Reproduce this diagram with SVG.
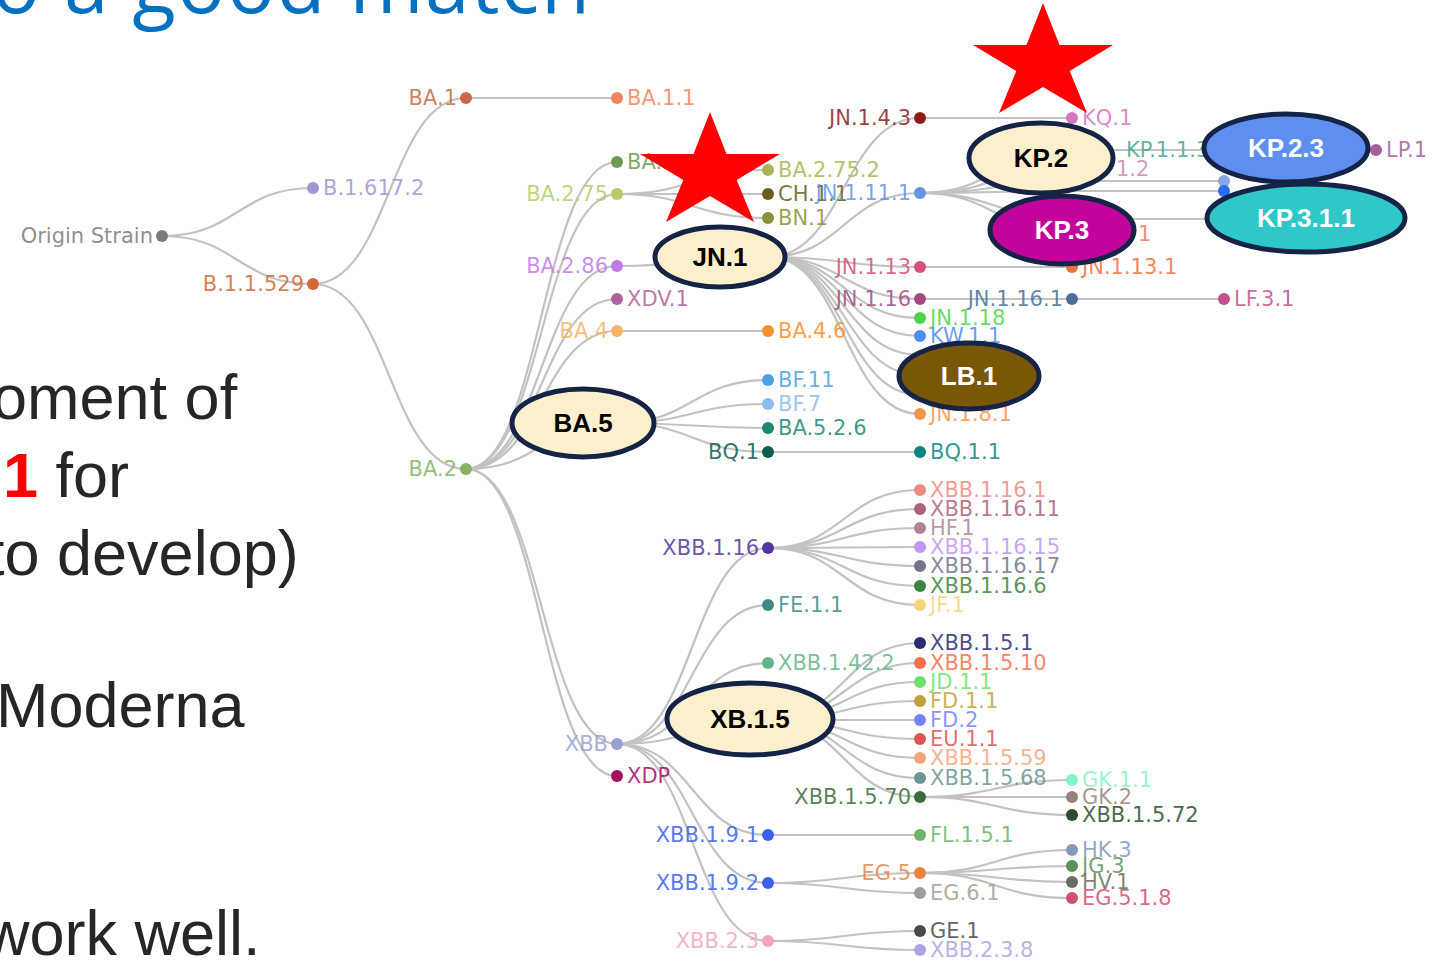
<svg xmlns="http://www.w3.org/2000/svg" width="1452" height="963" viewBox="0 0 1452 963">
<style>
.ln{fill:none;stroke:#c2c2c2;stroke-width:2.2}
.t{font-family:"DejaVu Sans",Verdana,sans-serif;font-size:21px;fill-opacity:0.85}
.l{text-anchor:end}
.big{stroke:#152446;stroke-width:5}
.et{font-family:"Liberation Sans",Arial,sans-serif;font-size:26px;font-weight:bold;text-anchor:middle}
.body{font-family:"Liberation Sans",Arial,sans-serif;font-size:63px;fill:#262626}
.star{fill:#ff0000}
</style>
<defs>
<polygon id="star" points="710,112 726.5,154 780,154 736.7,180 754,222 710,196 666,222 683.3,180 640,154 693.5,154"/>
</defs>
<rect width="1452" height="963" fill="#ffffff"/>
<text x="-8" y="13" font-family="Open Sans,Lato,sans-serif" font-size="80" fill="#0070c0" textLength="598" lengthAdjust="spacing">o a good match</text>
<g id="body-text">
<text class="body" x="-8" y="419">oment of</text>
<text class="body" x="3" y="497"><tspan fill="#ff0000" font-weight="bold">1</tspan> for</text>
<text class="body" x="-13" y="575">to develop)</text>
<text class="body" x="-4" y="727">Moderna</text>
<text class="body" x="-16" y="955">work well.</text>
</g>
<g id="connectors">
<path class="ln" d="M162,236C237.5,236 237.5,188 313,188"/>
<path class="ln" d="M162,236C237.5,236 237.5,284 313,284"/>
<path class="ln" d="M313,284C389.5,284 389.5,98 466,98"/>
<path class="ln" d="M313,284C389.5,284 389.5,469 466,469"/>
<path class="ln" d="M466,98H617"/>
<path class="ln" d="M466,469C541.5,469 541.5,162 617,162"/>
<path class="ln" d="M466,469C541.5,469 541.5,194 617,194"/>
<path class="ln" d="M466,469C541.5,469 541.5,266 617,266"/>
<path class="ln" d="M466,469C541.5,469 541.5,299 617,299"/>
<path class="ln" d="M466,469C541.5,469 541.5,331 617,331"/>
<path class="ln" d="M466,469C541.5,469 541.5,423 617,423"/>
<path class="ln" d="M466,469C541.5,469 541.5,744 617,744"/>
<path class="ln" d="M466,469C541.5,469 541.5,776 617,776"/>
<path class="ln" d="M617,194C692.5,194 692.5,170 768,170"/>
<path class="ln" d="M617,194H768"/>
<path class="ln" d="M617,194C692.5,194 692.5,218 768,218"/>
<path class="ln" d="M617,266C692.5,266 692.5,257 768,257"/>
<path class="ln" d="M617,331H768"/>
<path class="ln" d="M617,423C692.5,423 692.5,380 768,380"/>
<path class="ln" d="M617,423C692.5,423 692.5,404 768,404"/>
<path class="ln" d="M617,423C692.5,423 692.5,428 768,428"/>
<path class="ln" d="M617,423C692.5,423 692.5,452 768,452"/>
<path class="ln" d="M768,452H920"/>
<path class="ln" d="M768,257C844,257 844,118 920,118"/>
<path class="ln" d="M768,257C844,257 844,193 920,193"/>
<path class="ln" d="M768,257C844,257 844,267 920,267"/>
<path class="ln" d="M768,257C844,257 844,299 920,299"/>
<path class="ln" d="M768,257C844,257 844,318 920,318"/>
<path class="ln" d="M768,257C844,257 844,336 920,336"/>
<path class="ln" d="M768,257C844,257 844,355 920,355"/>
<path class="ln" d="M768,257C844,257 844,375 920,375"/>
<path class="ln" d="M768,257C844,257 844,395 920,395"/>
<path class="ln" d="M768,257C844,257 844,414 920,414"/>
<path class="ln" d="M920,118H1072"/>
<path class="ln" d="M920,193C996,193 996,150 1072,150"/>
<path class="ln" d="M920,193C996,193 996,167 1072,167"/>
<path class="ln" d="M920,193C996,193 996,181 1072,181"/>
<path class="ln" d="M920,193C996,193 996,191 1072,191"/>
<path class="ln" d="M920,193C996,193 996,219 1072,219"/>
<path class="ln" d="M920,193C996,193 996,233 1072,233"/>
<path class="ln" d="M1072,150H1376"/>
<path class="ln" d="M1072,181H1224"/>
<path class="ln" d="M1072,191H1224"/>
<path class="ln" d="M1072,219H1224"/>
<path class="ln" d="M920,267H1072"/>
<path class="ln" d="M920,299H1224"/>
<path class="ln" d="M617,744C692.5,744 692.5,548 768,548"/>
<path class="ln" d="M617,744C692.5,744 692.5,605 768,605"/>
<path class="ln" d="M617,744C692.5,744 692.5,663 768,663"/>
<path class="ln" d="M617,744C692.5,744 692.5,720 768,720"/>
<path class="ln" d="M617,744C692.5,744 692.5,835 768,835"/>
<path class="ln" d="M617,744C692.5,744 692.5,883 768,883"/>
<path class="ln" d="M617,744C692.5,744 692.5,941 768,941"/>
<path class="ln" d="M768,548C844,548 844,490 920,490"/>
<path class="ln" d="M768,548C844,548 844,509 920,509"/>
<path class="ln" d="M768,548C844,548 844,528 920,528"/>
<path class="ln" d="M768,548C844,548 844,547 920,547"/>
<path class="ln" d="M768,548C844,548 844,566 920,566"/>
<path class="ln" d="M768,548C844,548 844,586 920,586"/>
<path class="ln" d="M768,548C844,548 844,605 920,605"/>
<path class="ln" d="M768,720C844,720 844,643 920,643"/>
<path class="ln" d="M768,720C844,720 844,663 920,663"/>
<path class="ln" d="M768,720C844,720 844,682 920,682"/>
<path class="ln" d="M768,720C844,720 844,701 920,701"/>
<path class="ln" d="M768,720H920"/>
<path class="ln" d="M768,720C844,720 844,739 920,739"/>
<path class="ln" d="M768,720C844,720 844,758 920,758"/>
<path class="ln" d="M768,720C844,720 844,778 920,778"/>
<path class="ln" d="M768,720C844,720 844,797 920,797"/>
<path class="ln" d="M920,797C996,797 996,780 1072,780"/>
<path class="ln" d="M920,797H1072"/>
<path class="ln" d="M920,797C996,797 996,815 1072,815"/>
<path class="ln" d="M768,835H920"/>
<path class="ln" d="M768,883C844,883 844,873 920,873"/>
<path class="ln" d="M768,883C844,883 844,893 920,893"/>
<path class="ln" d="M920,873C996,873 996,850 1072,850"/>
<path class="ln" d="M920,873C996,873 996,866 1072,866"/>
<path class="ln" d="M920,873C996,873 996,882 1072,882"/>
<path class="ln" d="M920,873C996,873 996,898 1072,898"/>
<path class="ln" d="M768,941C844,941 844,931 920,931"/>
<path class="ln" d="M768,941C844,941 844,950 920,950"/>
</g>
<g id="n-origin"><circle cx="162" cy="236" r="6" fill="#7a7a7a"/><text class="t l" x="153" y="243" fill="#7a7a7a">Origin Strain</text></g>
<g id="n-b16172"><circle cx="313" cy="188" r="6" fill="#a494d0"/><text class="t" x="323" y="195" fill="#a494d0">B.1.617.2</text></g>
<g id="n-b11529"><circle cx="313" cy="284" r="6" fill="#d0683c"/><text class="t l" x="304" y="291" fill="#d0683c">B.1.1.529</text></g>
<g id="n-ba1"><circle cx="466" cy="98" r="6" fill="#c86a42"/><text class="t l" x="457" y="105" fill="#c86a42">BA.1</text></g>
<g id="n-ba2"><circle cx="466" cy="469" r="6" fill="#84b464"/><text class="t l" x="457" y="476" fill="#84b464">BA.2</text></g>
<g id="n-ba11"><circle cx="617" cy="98" r="6" fill="#f4845c"/><text class="t" x="627" y="105" fill="#f4845c">BA.1.1</text></g>
<g id="n-ba2x"><circle cx="617" cy="162" r="6" fill="#6c9a52"/><text class="t" x="627" y="169" fill="#6c9a52">BA.</text></g>
<g id="n-ba275"><circle cx="617" cy="194" r="6" fill="#b4cc6c"/><text class="t l" x="608" y="201" fill="#b4cc6c">BA.2.75</text></g>
<g id="n-ba286"><circle cx="617" cy="266" r="6" fill="#c27ae6"/><text class="t l" x="608" y="273" fill="#c27ae6">BA.2.86</text></g>
<g id="n-xdv1"><circle cx="617" cy="299" r="6" fill="#b0609a"/><text class="t" x="627" y="306" fill="#b0609a">XDV.1</text></g>
<g id="n-ba4"><circle cx="617" cy="331" r="6" fill="#f8b464"/><text class="t l" x="608" y="338" fill="#f8b464">BA.4</text></g>
<g id="n-xbb"><circle cx="617" cy="744" r="6" fill="#98a0d4"/><text class="t l" x="608" y="751" fill="#98a0d4">XBB</text></g>
<g id="n-xdp"><circle cx="617" cy="776" r="6" fill="#a80a64"/><text class="t" x="627" y="783" fill="#a80a64">XDP</text></g>
<g id="n-ba2752"><circle cx="768" cy="170" r="6" fill="#a8b454"/><text class="t" x="778" y="177" fill="#a8b454">BA.2.75.2</text></g>
<g id="n-ch11"><circle cx="768" cy="194" r="6" fill="#6c5c1c"/><text class="t" x="778" y="201" fill="#6c5c1c">CH.1.1</text></g>
<g id="n-bn1"><circle cx="768" cy="218" r="6" fill="#8c9038"/><text class="t" x="778" y="225" fill="#8c9038">BN.1</text></g>
<g id="n-ba46"><circle cx="768" cy="331" r="6" fill="#f8902c"/><text class="t" x="778" y="338" fill="#f8902c">BA.4.6</text></g>
<g id="n-bf11"><circle cx="768" cy="380" r="6" fill="#4ca0e8"/><text class="t" x="778" y="387" fill="#4ca0e8">BF.11</text></g>
<g id="n-bf7"><circle cx="768" cy="404" r="6" fill="#8cbcf0"/><text class="t" x="778" y="411" fill="#8cbcf0">BF.7</text></g>
<g id="n-ba526"><circle cx="768" cy="428" r="6" fill="#1c8870"/><text class="t" x="778" y="435" fill="#1c8870">BA.5.2.6</text></g>
<g id="n-bq1"><circle cx="768" cy="452" r="6" fill="#0c5c50"/><text class="t l" x="759" y="459" fill="#0c5c50">BQ.1</text></g>
<g id="n-xbb116"><circle cx="768" cy="548" r="6" fill="#5434a0"/><text class="t l" x="759" y="555" fill="#5434a0">XBB.1.16</text></g>
<g id="n-fe11"><circle cx="768" cy="605" r="6" fill="#3c8c84"/><text class="t" x="778" y="612" fill="#3c8c84">FE.1.1</text></g>
<g id="n-xbb1422"><circle cx="768" cy="663" r="6" fill="#64b488"/><text class="t" x="778" y="670" fill="#64b488">XBB.1.42.2</text></g>
<g id="n-xbb191"><circle cx="768" cy="835" r="6" fill="#3c60f4"/><text class="t l" x="759" y="842" fill="#3c60f4">XBB.1.9.1</text></g>
<g id="n-xbb192"><circle cx="768" cy="883" r="6" fill="#3c60f4"/><text class="t l" x="759" y="890" fill="#3c60f4">XBB.1.9.2</text></g>
<g id="n-xbb23"><circle cx="768" cy="941" r="6" fill="#f4a4c4"/><text class="t l" x="759" y="948" fill="#f4a4c4">XBB.2.3</text></g>
<g id="n-jn143"><circle cx="920" cy="118" r="6" fill="#8c1c1c"/><text class="t l" x="911" y="125" fill="#8c1c1c">JN.1.4.3</text></g>
<g id="n-jn1111"><circle cx="920" cy="193" r="6" fill="#6494e4"/><text class="t l" x="911" y="200" fill="#6494e4">JN.1.11.1</text></g>
<g id="n-jn113"><circle cx="920" cy="267" r="6" fill="#d4507a"/><text class="t l" x="911" y="274" fill="#d4507a">JN.1.13</text></g>
<g id="n-jn116"><circle cx="920" cy="299" r="6" fill="#a04c84"/><text class="t l" x="911" y="306" fill="#a04c84">JN.1.16</text></g>
<g id="n-jn118"><circle cx="920" cy="318" r="6" fill="#4cd44c"/><text class="t" x="930" y="325" fill="#4cd44c">JN.1.18</text></g>
<g id="n-kw11"><circle cx="920" cy="336" r="6" fill="#4c8cf4"/><text class="t" x="930" y="343" fill="#4c8cf4">KW.1.1</text></g>
<g id="n-jn181"><circle cx="920" cy="414" r="6" fill="#f8944c"/><text class="t" x="930" y="421" fill="#f8944c">JN.1.8.1</text></g>
<g id="n-bq11"><circle cx="920" cy="452" r="6" fill="#0c8484"/><text class="t" x="930" y="459" fill="#0c8484">BQ.1.1</text></g>
<g id="n-xbb1161"><circle cx="920" cy="490" r="6" fill="#f08a84"/><text class="t" x="930" y="497" fill="#f08a84">XBB.1.16.1</text></g>
<g id="n-xbb11611"><circle cx="920" cy="509" r="6" fill="#b0607c"/><text class="t" x="930" y="516" fill="#b0607c">XBB.1.16.11</text></g>
<g id="n-hf1"><circle cx="920" cy="528" r="6" fill="#b08494"/><text class="t" x="930" y="535" fill="#b08494">HF.1</text></g>
<g id="n-xbb11615"><circle cx="920" cy="547" r="6" fill="#c494f4"/><text class="t" x="930" y="554" fill="#c494f4">XBB.1.16.15</text></g>
<g id="n-xbb11617"><circle cx="920" cy="566" r="6" fill="#74748c"/><text class="t" x="930" y="573" fill="#74748c">XBB.1.16.17</text></g>
<g id="n-xbb1166"><circle cx="920" cy="586" r="6" fill="#3c843c"/><text class="t" x="930" y="593" fill="#3c843c">XBB.1.16.6</text></g>
<g id="n-jf1"><circle cx="920" cy="605" r="6" fill="#f8d47c"/><text class="t" x="930" y="612" fill="#f8d47c">JF.1</text></g>
<g id="n-xbb151"><circle cx="920" cy="643" r="6" fill="#2c2c74"/><text class="t" x="930" y="650" fill="#2c2c74">XBB.1.5.1</text></g>
<g id="n-xbb1510"><circle cx="920" cy="663" r="6" fill="#f4704c"/><text class="t" x="930" y="670" fill="#f4704c">XBB.1.5.10</text></g>
<g id="n-jd11"><circle cx="920" cy="682" r="6" fill="#6ce46c"/><text class="t" x="930" y="689" fill="#6ce46c">JD.1.1</text></g>
<g id="n-fd11"><circle cx="920" cy="701" r="6" fill="#c4a03c"/><text class="t" x="930" y="708" fill="#c4a03c">FD.1.1</text></g>
<g id="n-fd2"><circle cx="920" cy="720" r="6" fill="#7484f8"/><text class="t" x="930" y="727" fill="#7484f8">FD.2</text></g>
<g id="n-eu11"><circle cx="920" cy="739" r="6" fill="#e05454"/><text class="t" x="930" y="746" fill="#e05454">EU.1.1</text></g>
<g id="n-xbb1559"><circle cx="920" cy="758" r="6" fill="#f8a47c"/><text class="t" x="930" y="765" fill="#f8a47c">XBB.1.5.59</text></g>
<g id="n-xbb1568"><circle cx="920" cy="778" r="6" fill="#6c9494"/><text class="t" x="930" y="785" fill="#6c9494">XBB.1.5.68</text></g>
<g id="n-xbb1570"><circle cx="920" cy="797" r="6" fill="#3c6c3c"/><text class="t l" x="911" y="804" fill="#3c6c3c">XBB.1.5.70</text></g>
<g id="n-fl151"><circle cx="920" cy="835" r="6" fill="#6cb46c"/><text class="t" x="930" y="842" fill="#6cb46c">FL.1.5.1</text></g>
<g id="n-eg5"><circle cx="920" cy="873" r="6" fill="#e8843c"/><text class="t l" x="911" y="880" fill="#e8843c">EG.5</text></g>
<g id="n-eg61"><circle cx="920" cy="893" r="6" fill="#a49c94"/><text class="t" x="930" y="900" fill="#a49c94">EG.6.1</text></g>
<g id="n-ge1"><circle cx="920" cy="931" r="6" fill="#4c4848"/><text class="t" x="930" y="938" fill="#4c4848">GE.1</text></g>
<g id="n-xbb238"><circle cx="920" cy="950" r="6" fill="#aca4e4"/><text class="t" x="930" y="957" fill="#aca4e4">XBB.2.3.8</text></g>
<g id="n-kq1"><circle cx="1072" cy="118" r="6" fill="#d474c4"/><text class="t" x="1082" y="125" fill="#d474c4">KQ.1</text></g>
<g id="n-kp113"><text class="t" x="1126" y="157" fill="#48a494">KP.1.1.3</text></g>
<g id="n-x12"><text class="t" x="1116" y="176" fill="#cc88b0">1.2</text></g>
<g id="n-x1"><text class="t" x="1138" y="241" fill="#f47c5c">1</text></g>
<g id="n-jn1131"><circle cx="1072" cy="267" r="6" fill="#f07040"/><text class="t" x="1082" y="274" fill="#f07040">JN.1.13.1</text></g>
<g id="n-jn1161"><circle cx="1072" cy="299" r="6" fill="#4c7094"/><text class="t l" x="1063" y="306" fill="#4c7094">JN.1.16.1</text></g>
<g id="n-gk11"><circle cx="1072" cy="780" r="6" fill="#84f4c4"/><text class="t" x="1082" y="787" fill="#84f4c4">GK.1.1</text></g>
<g id="n-gk2"><circle cx="1072" cy="797" r="6" fill="#94847c"/><text class="t" x="1082" y="804" fill="#94847c">GK.2</text></g>
<g id="n-xbb1572"><circle cx="1072" cy="815" r="6" fill="#2c4c2c"/><text class="t" x="1082" y="822" fill="#2c4c2c">XBB.1.5.72</text></g>
<g id="n-hk3"><circle cx="1072" cy="850" r="6" fill="#8498b8"/><text class="t" x="1082" y="857" fill="#8498b8">HK.3</text></g>
<g id="n-jg3"><circle cx="1072" cy="866" r="6" fill="#5c905c"/><text class="t" x="1082" y="873" fill="#5c905c">JG.3</text></g>
<g id="n-hv1"><circle cx="1072" cy="882" r="6" fill="#6c6c5c"/><text class="t" x="1082" y="889" fill="#6c6c5c">HV.1</text></g>
<g id="n-eg518"><circle cx="1072" cy="898" r="6" fill="#d4506c"/><text class="t" x="1082" y="905" fill="#d4506c">EG.5.1.8</text></g>
<g id="n-lf31"><circle cx="1224" cy="299" r="6" fill="#c4508c"/><text class="t" x="1234" y="306" fill="#c4508c">LF.3.1</text></g>
<g id="n-kp2x"><circle cx="1224" cy="181" r="6" fill="#8aa4e4"/><circle cx="1224" cy="191" r="6" fill="#2c6cf4"/></g>
<g id="n-lp1"><circle cx="1376" cy="150" r="6" fill="#a4609c"/><text class="t" x="1386" y="157" fill="#a4609c">LP.1</text></g>
<g id="n-ba5"><ellipse class="big" cx="583" cy="423" rx="71" ry="34" fill="#fcefcc"/><text class="et" x="583" y="432" fill="#000">BA.5</text></g>
<g id="n-jn1"><ellipse class="big" cx="720" cy="257" rx="65" ry="30" fill="#fcefcc"/><text class="et" x="720" y="266" fill="#000">JN.1</text></g>
<g id="n-xb15"><ellipse class="big" cx="750" cy="719" rx="83" ry="36" fill="#fcefcc"/><text class="et" x="750" y="728" fill="#000">XB.1.5</text></g>
<g id="n-lb1"><ellipse class="big" cx="969" cy="376" rx="70" ry="33" fill="#7a5706"/><text class="et" x="969" y="385" fill="#fff" font-weight="normal">LB.1</text></g>
<g id="n-kp3"><ellipse class="big" cx="1062" cy="230" rx="72" ry="34" fill="#c2049c"/><text class="et" x="1062" y="239" fill="#fff">KP.3</text></g>
<g id="n-kp2"><ellipse class="big" cx="1041" cy="158" rx="72" ry="35" fill="#fcefcc"/><text class="et" x="1041" y="167" fill="#000">KP.2</text></g>
<g id="n-kp311"><ellipse class="big" cx="1306" cy="218" rx="99" ry="34" fill="#2ec8c8"/><text class="et" x="1306" y="227" fill="#fff">KP.3.1.1</text></g>
<g id="n-kp23"><ellipse class="big" cx="1286" cy="148" rx="82" ry="34" fill="#5e8ff0"/><text class="et" x="1286" y="157" fill="#fff">KP.2.3</text></g>
<g id="stars">
<use href="#star" class="star"/>
<use href="#star" class="star" transform="translate(333,-109)"/>
</g>
</svg>
